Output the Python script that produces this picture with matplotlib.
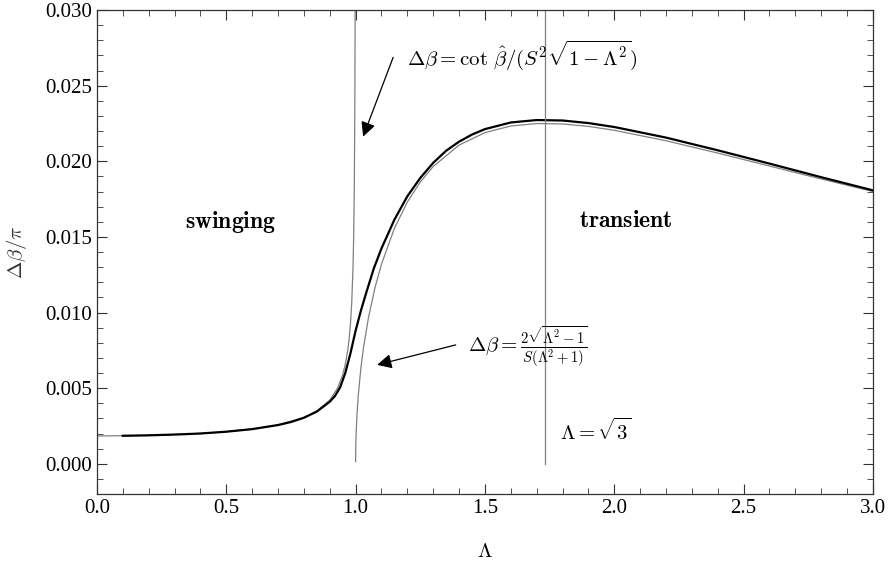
import matplotlib
matplotlib.use('Agg')
import matplotlib.pyplot as plt
from matplotlib.ticker import MultipleLocator

plt.rcParams['font.family'] = ['Liberation Serif', 'DejaVu Serif']
plt.rcParams['mathtext.fontset'] = 'cm'

# full solution (black curve)
lam_full = [0.1, 0.2, 0.3, 0.4, 0.5, 0.6, 0.7, 0.75, 0.8, 0.85, 0.9, 0.92, 0.94, 0.96,
            0.98, 1.0, 1.02, 1.04, 1.07, 1.1, 1.15, 1.2, 1.25, 1.3, 1.35, 1.4, 1.45,
            1.5, 1.6, 1.7, 1.8, 1.9, 2.0, 2.2, 2.4, 2.6, 2.8, 3.0]
db_full = [0.00185, 0.00188, 0.00193, 0.00200, 0.00212, 0.00229, 0.00256, 0.00276,
           0.00304, 0.00345, 0.00410, 0.00448, 0.00505, 0.00600, 0.00730, 0.00880,
           0.01010, 0.01125, 0.01290, 0.01424, 0.01614, 0.01769, 0.01890, 0.01990,
           0.02070, 0.02130, 0.02177, 0.02213, 0.02257, 0.02273, 0.02270, 0.02253,
           0.02227, 0.02157, 0.02073, 0.01985, 0.01895, 0.01808]

# swinging asymptote (gray, left of 1)
lam_swing = [0.0, 0.2, 0.4, 0.5, 0.6, 0.7, 0.8, 0.85, 0.9, 0.93, 0.95, 0.96, 0.97,
             0.975, 0.98, 0.985, 0.99, 0.9925, 0.995, 0.997, 0.998, 0.999]
db_swing = [0.001837, 0.001875, 0.002004, 0.002121, 0.002296, 0.002572, 0.003062,
            0.003487, 0.004214, 0.004998, 0.005883, 0.006561, 0.007557, 0.008267,
            0.009231, 0.010646, 0.013022, 0.015027, 0.018394, 0.023734, 0.029062,
            0.041087]

# transient asymptote (gray, right of 1)
lam_trans = [1.00001, 1.0005, 1.001, 1.002, 1.005, 1.01, 1.02, 1.03, 1.05, 1.075, 1.1,
             1.15, 1.2, 1.25, 1.3, 1.4, 1.5, 1.6, 1.7, 1.8, 1.9, 2.0, 2.2, 2.4, 2.6,
             2.8, 3.0]
db_trans = [0.000142, 0.001006, 0.001422, 0.002010, 0.003171, 0.004468, 0.006271,
            0.007623, 0.009694, 0.011650, 0.013201, 0.015566, 0.017307, 0.018633,
            0.019658, 0.021073, 0.021900, 0.022335, 0.022499, 0.022472, 0.022310,
            0.022053, 0.021362, 0.020546, 0.019689, 0.018834, 0.018006]

lam_crit = 1.7320508

fig = plt.figure(figsize=(8.88, 5.62), dpi=100)
ax = fig.add_axes([0.1092, 0.121, 0.8738, 0.861])

ax.plot(lam_swing, db_swing, color='#808080', lw=0.9)
ax.plot(lam_trans, db_trans, color='#808080', lw=0.9)
ax.plot(lam_full, db_full, color='black', lw=1.6)
ax.plot([lam_crit, lam_crit], [0.0, 0.030], color='#808080', lw=0.9)

ax.set_xlim(0, 3.0)
ax.set_ylim(-0.002, 0.030)

ax.xaxis.set_major_locator(MultipleLocator(0.5))
ax.xaxis.set_minor_locator(MultipleLocator(0.1))
ax.yaxis.set_major_locator(MultipleLocator(0.005))
ax.yaxis.set_minor_locator(MultipleLocator(0.001))
ax.xaxis.set_major_formatter(plt.FuncFormatter(lambda v, p: f'{v:.1f}'))
ax.yaxis.set_major_formatter(plt.FuncFormatter(lambda v, p: f'{v:.3f}'))
ax.tick_params(which='both', direction='in', top=True, right=True, labelsize=15,
               color='#333333')
ax.tick_params(which='major', length=7, width=0.8)
ax.tick_params(which='minor', length=4, width=0.6)
for s in ax.spines.values():
    s.set_color('#333333')
    s.set_linewidth(0.9)

ax.set_xlabel(r'$\Lambda$', fontsize=15, labelpad=18)
ax.set_ylabel(r'$\Delta\beta/\pi$', fontsize=15, labelpad=12, color='#333333')

arrow = dict(arrowstyle='-|>', color='black', lw=0.9, mutation_scale=22, shrinkA=0, shrinkB=0)
ax.annotate('', xy=(1.029, 0.02163), xytext=(1.145, 0.02687), arrowprops=arrow)
ax.text(1.197, 0.0270, r'$\Delta\beta = \cot\,\hat{\beta}/(S^2\sqrt{1-\Lambda^2})$',
        fontsize=15, va='center', ha='left')
ax.annotate('', xy=(1.083, 0.00654), xytext=(1.387, 0.00786), arrowprops=arrow)
ax.text(1.434, 0.00775, r'$\Delta\beta = \frac{2\sqrt{\Lambda^2-1}}{S(\Lambda^2+1)}$',
        fontsize=15, va='center', ha='left')

ax.text(0.515, 0.0160, r'$\mathbf{swinging}$', fontsize=17, ha='center', va='center')
ax.text(2.045, 0.0160, r'$\mathbf{transient}$', fontsize=17, ha='center', va='center')
ax.text(1.79, 0.00213, r'$\Lambda = \sqrt{3}$', fontsize=15, ha='left', va='center')

plt.savefig('out.png', dpi=100)
plt.close()
